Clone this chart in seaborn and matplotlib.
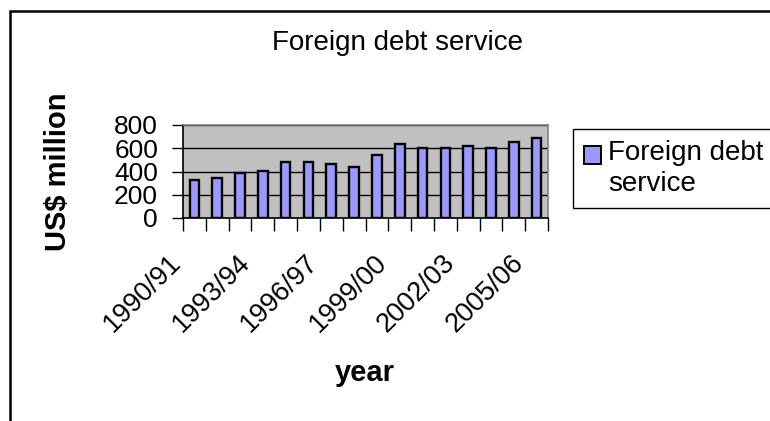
import matplotlib
matplotlib.use('Agg')
import matplotlib.pyplot as plt
import matplotlib.transforms as mtransforms
from matplotlib.patches import Rectangle, Patch
from matplotlib.legend_handler import HandlerPatch
import numpy as np
import pandas as pd
import seaborn as sns

# ---------------- data ----------------
years = ['1990/91', '1991/92', '1992/93', '1993/94', '1994/95', '1995/96',
         '1996/97', '1997/98', '1998/99', '1999/00', '2000/01', '2001/02',
         '2002/03', '2003/04', '2004/05', '2005/06']
debt_service = [326, 346, 383, 403, 480, 480, 462, 442, 540, 638, 600, 600,
                618, 600, 655, 692]
shown_ticks = ['1990/91', '1993/94', '1996/97', '1999/00', '2002/03', '2005/06']
y_ticks = [0, 200, 400, 600, 800]
series_name = 'Foreign debt service'
title = 'Foreign debt service'
x_label = 'year'
y_label = 'US$ million'

# ---------------- style ----------------
sns.set_theme(style='white')
plt.rcParams['font.family'] = ['Liberation Sans', 'DejaVu Sans']
plt.rcParams['text.color'] = 'black'
plt.rcParams['xtick.color'] = 'black'
plt.rcParams['ytick.color'] = 'black'
plt.rcParams['axes.labelcolor'] = 'black'

W, H = 770, 421
fig = plt.figure(figsize=(W / 100, H / 100), dpi=100)
fig.patch.set_facecolor('white')

# plot area in pixel coords
left, right, top, bottom = 183, 548, 125, 218
ax = fig.add_axes([left / W, 1 - bottom / H, (right - left) / W, (bottom - top) / H])

df = pd.DataFrame({'year': years, 'value': debt_service})
sns.barplot(data=df, x='year', y='value', ax=ax, color='#9999FF',
            saturation=1, width=0.42, edgecolor='black', linewidth=1.7)

ax.set_facecolor('#C0C0C0')
ax.set_xlim(-0.5, len(years) - 0.5)
ax.set_ylim(0, 800)
ax.set_yticks(y_ticks)
ax.set_yticklabels([str(v) for v in y_ticks], fontsize=19, color='black')
ax.set_axisbelow(True)
ax.yaxis.grid(True, color='black', linewidth=1.0)
ax.xaxis.grid(False)

for s in ['top', 'right']:
    ax.spines[s].set_color('#808080')
    ax.spines[s].set_linewidth(1.2)
for s in ['left', 'bottom']:
    ax.spines[s].set_color('black')
    ax.spines[s].set_linewidth(1.2)

# x ticks: labels every 3rd category, tick marks on category boundaries
major_pos = [years.index(t) for t in shown_ticks]
ax.set_xticks(major_pos)
ax.set_xticklabels(shown_ticks, fontsize=19.5, color='black')
ax.set_xticks(np.arange(-0.5, len(years), 1.0), minor=True)
ax.tick_params(axis='x', which='major', length=0, pad=0)
ax.tick_params(axis='x', which='minor', length=9, width=1.0, color='black',
               direction='out', bottom=True)
ax.tick_params(axis='y', which='major', length=8, width=1.0, color='black',
               direction='out', left=True, pad=10)
ax.set_xlabel('')
ax.set_ylabel('')

offset = mtransforms.ScaledTranslation(-17 / 100, -41 / 100, fig.dpi_scale_trans)
for lab in ax.get_xticklabels():
    lab.set_rotation(45)
    lab.set_ha('right')
    lab.set_va('center')
    lab.set_rotation_mode('anchor')
    lab.set_transform(lab.get_transform() + offset)

# titles
fig.text(398 / W, 1 - 43 / H, title, ha='center', va='center', fontsize=20,
         color='black')
fig.text(365 / W, 1 - 381 / H, x_label, ha='center', va='baseline',
         fontsize=21, fontweight='bold', color='black')
fig.text(58 / W, 1 - 172 / H, y_label, ha='center', va='center',
         rotation=90, fontsize=21, fontweight='bold', color='black')

# legend
class ShiftedHandler(HandlerPatch):
    def __init__(self, shift, **kw):
        super().__init__(**kw)
        self.shift = shift

    def create_artists(self, legend, orig_handle, xdescent, ydescent,
                       width, height, fontsize, trans):
        p = Rectangle((-xdescent, -ydescent + self.shift), width, height,
                      facecolor=orig_handle.get_facecolor(),
                      edgecolor='black', linewidth=1.4, transform=trans)
        return [p]

handle = Patch(facecolor='#9999FF', edgecolor='black', label='Foreign debt\nservice')
leg = fig.legend(handles=[handle], loc='upper left',
                 bbox_to_anchor=(573 / W, 1 - 129 / H),
                 bbox_transform=fig.transFigure,
                 fontsize=20, frameon=True, fancybox=False, shadow=False,
                 framealpha=1, edgecolor='black', borderpad=0.4,
                 handlelength=0.6, handleheight=0.6, handletextpad=0.25,
                 borderaxespad=0, labelspacing=0.2,
                 handler_map={Patch: ShiftedHandler(shift=10)})
leg.get_frame().set_linewidth(1.0)
for t in leg.get_texts():
    t.set_linespacing(1.25)
    t.set_color('black')

# outer chart frame
fig.add_artist(Rectangle((10 / W, -0.2), 1.2, 1.2 - 11 / H,
                         transform=fig.transFigure, fill=False,
                         edgecolor='black', linewidth=1.8))

fig.savefig('out.png', dpi=100)
